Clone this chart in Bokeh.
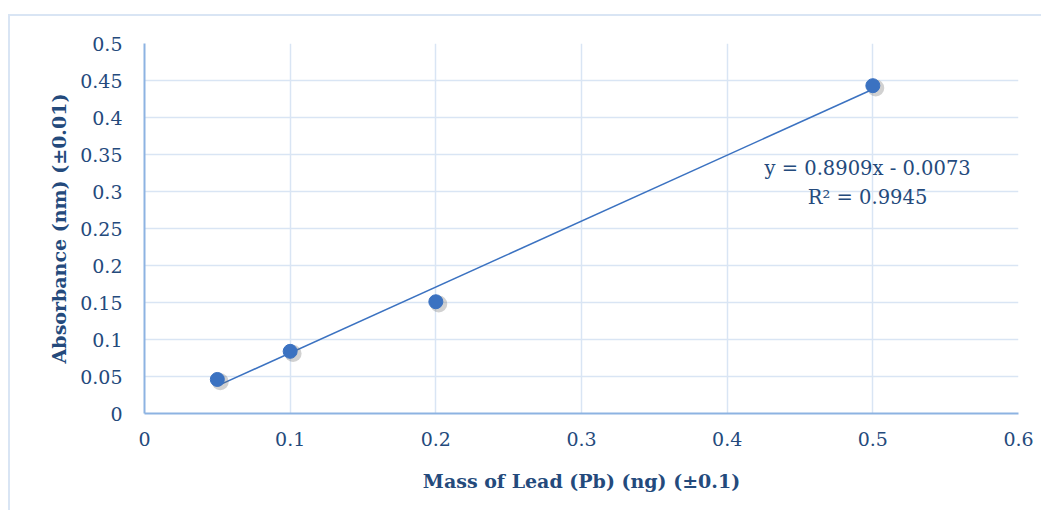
from bokeh.plotting import figure
from bokeh.embed import file_html
from bokeh.resources import INLINE
from bokeh.models import Range1d, FixedTicker, Label, CustomJSTickFormatter

# Data
mass = [0.05, 0.1, 0.2, 0.5]
absorbance = [0.046, 0.084, 0.151, 0.443]
slope = 0.8909
intercept = -0.0073
x_ticks = [0, 0.1, 0.2, 0.3, 0.4, 0.5, 0.6]
y_ticks = [0, 0.05, 0.1, 0.15, 0.2, 0.25, 0.3, 0.35, 0.4, 0.45, 0.5]
equation = "y = 0.8909x - 0.0073"
r2_text = "R² = 0.9945"
x_title = "Mass of Lead (Pb) (ng) (±0.1)"
y_title = "Absorbance (nm) (±0.01)"

FONT = "DejaVu Serif"
TXT = "#244a7c"
GRID = "#d9e5f4"
AXIS = "#8db3e2"
PT = "#3b72c1"

p = figure(width=1033, height=496, output_backend="svg", toolbar_location=None,
           x_range=Range1d(0, 0.6), y_range=Range1d(0, 0.5),
           min_border_left=134, min_border_right=25, min_border_top=27, min_border_bottom=99,
           margin=(14, 0, 0, 8),
           styles={"border-top": f"2px solid {GRID}", "border-left": f"2px solid {GRID}"})
p.outline_line_color = None
p.background_fill_color = "white"
p.border_fill_color = "white"

fmt = CustomJSTickFormatter(code="return String(Math.round(tick*100)/100);")
p.xaxis.ticker = FixedTicker(ticks=x_ticks)
p.yaxis.ticker = FixedTicker(ticks=y_ticks)
p.xaxis.formatter = fmt
p.yaxis.formatter = fmt
for ax in (p.xaxis[0], p.yaxis[0]):
    ax.axis_line_color = AXIS
    ax.axis_line_width = 2
    ax.major_tick_line_color = None
    ax.minor_tick_line_color = None
    ax.major_label_text_font = FONT
    ax.major_label_text_font_size = "19px"
    ax.major_label_text_color = TXT
    ax.axis_label_text_font = FONT
    ax.axis_label_text_font_style = "bold"
    ax.axis_label_text_font_size = "19px"
    ax.axis_label_text_color = TXT
p.xaxis.axis_label = x_title
p.yaxis.axis_label = y_title
p.xaxis.major_label_standoff = 12
p.yaxis.major_label_standoff = 16
p.xaxis.axis_label_standoff = 21
p.yaxis.axis_label_standoff = 7

p.xgrid.grid_line_color = GRID
p.ygrid.grid_line_color = GRID
p.xgrid.grid_line_width = 1.5
p.ygrid.grid_line_width = 1.5

# trendline
x0, x1 = min(mass), max(mass)
p.line([x0, x1], [slope * x0 + intercept, slope * x1 + intercept], line_color=PT, line_width=1.5)

# markers with soft shadow
p.scatter([m + 0.002 for m in mass], [a - 0.003 for a in absorbance], size=17,
          fill_color="#666666", fill_alpha=0.3, line_color=None)
p.scatter(mass, absorbance, size=14, fill_color=PT, line_color=PT)

p.add_layout(Label(x=0.4964, y=0.331, text=equation,
                   text_font=FONT, text_font_size="19.5px", text_color=TXT,
                   text_align="center", text_baseline="middle"))
p.add_layout(Label(x=0.4964, y=0.292, text=r2_text,
                   text_font=FONT, text_font_size="19.5px", text_color=TXT,
                   text_align="center", text_baseline="middle"))

open("out.html", "w").write(file_html(p, INLINE))
